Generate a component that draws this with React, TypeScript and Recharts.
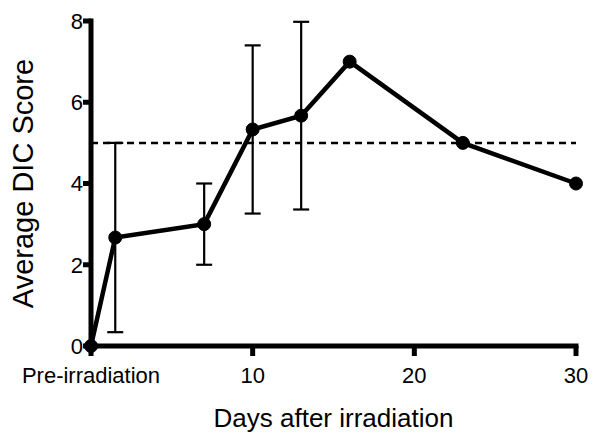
import { LineChart, Line, XAxis, YAxis, ErrorBar, ReferenceLine } from 'recharts'

const days = [0, 1.5, 7, 10, 13, 16, 23, 30]
const scores = [0, 2.67, 3, 5.33, 5.67, 7, 5, 4]
const errLow = [null, 2.33, 1, 2.07, 2.31, null, null, null]
const errHigh = [null, 2.33, 1, 2.07, 2.31, null, null, null]
const xTicks = [0, 10, 20, 30]
const yTicks = [0, 2, 4, 6, 8]
const threshold = 5

const rows = days.map((d, i) => ({
  day: d,
  score: scores[i],
  err: errLow[i] == null ? undefined : [errLow[i], errHigh[i]],
}))

const font = '"Liberation Sans", Arial, sans-serif'
const AXIS_W = 5

// tick mark + label drawn together so the marks get the heavy Prism weight
function XTick({ x, y, payload }: any) {
  const label = payload.value === 0 ? 'Pre-irradiation' : String(payload.value)
  return (
    <g>
      <line x1={x} y1={y} x2={x} y2={y + 10} stroke="#000" strokeWidth={AXIS_W} />
      <text x={x} y={y + 21} dy="0.71em" textAnchor="middle" fontSize={22} fill="#000" fontFamily={font}>
        {label}
      </text>
    </g>
  )
}

function YTick({ x, y, payload }: any) {
  return (
    <g>
      <line x1={x - 8} y1={y} x2={x} y2={y} stroke="#000" strokeWidth={AXIS_W} />
      <text x={x - 8} y={y} dy="0.355em" textAnchor="end" fontSize={22} fill="#000" fontFamily={font}>
        {payload.value}
      </text>
    </g>
  )
}

export default function App() {
  return (
    <div style={{ position: 'absolute', left: 0, top: 0, background: '#fff' }}>
      <LineChart width={600} height={445} data={rows} margin={{ top: 21, right: 24, left: 0, bottom: 0 }}>
        <XAxis
          dataKey="day"
          type="number"
          domain={[0, 30]}
          ticks={xTicks}
          height={99}
          axisLine={false}
          tickLine={false}
          tickSize={0}
          tickMargin={0}
          tick={<XTick />}
          interval={0}
          label={{ value: 'Days after irradiation', position: 'insideBottom', offset: 18, fontSize: 26, fill: '#000', fontFamily: font }}
        />
        <YAxis
          type="number"
          domain={[0, 8]}
          ticks={yTicks}
          width={91}
          axisLine={false}
          tickLine={false}
          tickSize={0}
          tickMargin={0}
          tick={<YTick />}
          label={{ value: 'Average DIC Score', angle: -90, position: 'center', dx: -23, fontSize: 29, fill: '#000', fontFamily: font }}
        />
        <ReferenceLine x={0} stroke="#000" strokeWidth={AXIS_W} strokeLinecap="square" />
        <ReferenceLine y={0} stroke="#000" strokeWidth={AXIS_W} strokeLinecap="square" />
        <ReferenceLine y={threshold} stroke="#000" strokeWidth={2.5} strokeDasharray="7 5" />
        <Line
          dataKey="score"
          stroke="#000"
          strokeWidth={4.5}
          dot={{ r: 6.5, fill: '#000', stroke: '#000', strokeWidth: 1 }}
          isAnimationActive={false}
        >
          <ErrorBar dataKey="err" width={8} stroke="#000" strokeWidth={2.2} direction="y" />
        </Line>
      </LineChart>
    </div>
  )
}
